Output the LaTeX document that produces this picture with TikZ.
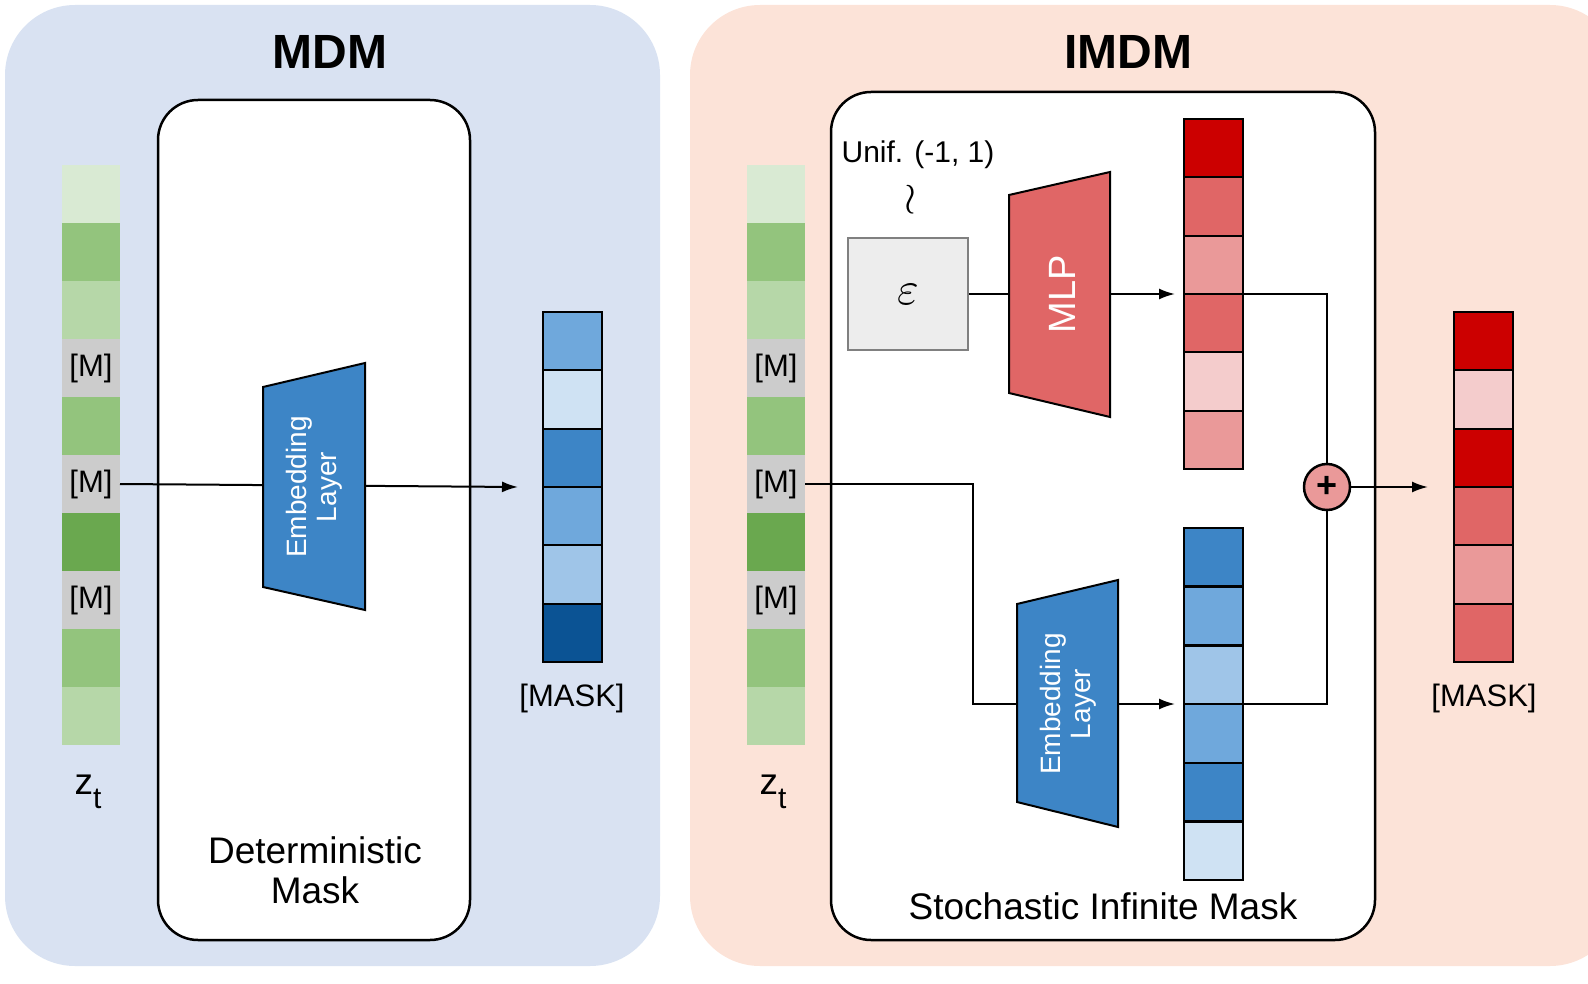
\documentclass[tikz,border=0pt]{standalone}
\usepackage{fontspec}
\usepackage{graphicx}
\setmainfont{Liberation Sans}
\usetikzlibrary{arrows.meta,calc}
\definecolor{bgL}{HTML}{D9E2F2}\definecolor{bgR}{HTML}{FCE3D8}
\definecolor{g1}{HTML}{D9EAD3}\definecolor{g2}{HTML}{93C47D}\definecolor{g3}{HTML}{B6D7A8}\definecolor{g4}{HTML}{6AA84F}\definecolor{mg}{HTML}{CCCCCC}
\definecolor{b1}{HTML}{6FA8DC}\definecolor{b2}{HTML}{CFE2F3}\definecolor{b3}{HTML}{3D85C6}\definecolor{b4}{HTML}{9FC5E8}\definecolor{b5}{HTML}{0B5394}
\definecolor{r1}{HTML}{CC0000}\definecolor{r2}{HTML}{E06666}\definecolor{r3}{HTML}{EA9999}\definecolor{r4}{HTML}{F4CCCC}
\tikzset{
 cell/.style={draw=black,line width=2pt,minimum width=59pt,minimum height=58.3pt,inner sep=0,outer sep=0},
 gcell/.style={draw=none,minimum width=58pt,minimum height=58pt,inner sep=0,outer sep=0,font=\fontsize{31}{33}\selectfont},
 ln/.style={line width=2pt},
 arr/.style={ln,-{Latex[length=16pt,width=11pt]}},
 lbl/.style={font=\fontsize{37}{42}\selectfont,align=center},
 trap/.style={draw=black,line width=2pt},
}
\newcommand{\gcol}[2]{%
 \foreach \c [count=\i] in {g1,g2,g3,mg,g2,mg,g4,mg,g2,g3}{\node[gcell,fill=\c] (#1\i) at (#2,{165+58*(\i-1)+29}) {};}
 \foreach \i in {4,6,8}{\node[gcell,fill=none] at (#1\i) {[M]};}
}
\begin{document}
\begin{tikzpicture}[x=1pt,y=-1pt]
\useasboundingbox (0,0) rectangle (1588,984);
\begin{scope}
\clip (0,0) rectangle (1588,984);
\fill[bgL,rounded corners=70pt] (5,5) rectangle (660,966);
\fill[bgR,rounded corners=70pt] (690,5) rectangle (1620,966);
\end{scope}
\node[font=\fontsize{48}{52}\selectfont\bfseries] (t1) at (330,52) {MDM};
\node[font=\fontsize{48}{52}\selectfont\bfseries] (t2) at (1128,52) {IMDM};
% Left
\draw[fill=white,line width=2.5pt,rounded corners=40pt] (158,100) rectangle (470,940);
\gcol{L}{91}
\node[lbl] (zl) at (88,792) {z\raisebox{-14pt}{\fontsize{30}{32}\selectfont t}};
\foreach \c [count=\i] in {b1,b2,b3,b1,b4,b5}{\node[cell,fill=\c] (O\i) at (572.5,{312+58.3*(\i-1)+29.2}) {};}
\node[font=\fontsize{31}{33}\selectfont] (m1) at (572,698) {[MASK]};
\node[lbl] (dm) at (315,870) {Deterministic\\[-2pt]Mask};
\coordinate (la) at (518,487);
\draw[arr] (L6.east) -- (la);
\draw[trap,fill=b3] (263,387) -- (365,363) -- (365,610) -- (263,587) -- cycle;
\node[rotate=90,align=center,text=white,font=\fontsize{28}{30}\selectfont] (e1) at (314,487) {Embedding\\Layer};
% Right
\draw[fill=white,line width=2.5pt,rounded corners=40pt] (831,92) rectangle (1375,940);
\gcol{R}{776}
\node[lbl] (zr) at (773,792) {z\raisebox{-14pt}{\fontsize{30}{32}\selectfont t}};
\node[font=\fontsize{30}{32}\selectfont] (u) at (918,155) {Unif. (-1, 1)};
\node (tl) at (910,200) {\resizebox{!}{30pt}{$\wr$}};
\node[draw=gray,line width=2pt,fill=black!7,minimum width=120pt,minimum height=112pt,inner sep=0] (eps) at (908,294) {\resizebox{!}{20pt}{$\varepsilon$}};
\foreach \c [count=\i] in {r1,r2,r3,r2,r4,r3}{\node[cell,fill=\c] (P\i) at (1213.5,{119+58.3*(\i-1)+29.2}) {};}
\foreach \c [count=\i] in {b3,b1,b4,b1,b3,b2}{\node[cell,fill=\c] (Q\i) at (1213.5,{528+58.7*(\i-1)+29.3}) {};}
\foreach \c [count=\i] in {r1,r4,r1,r2,r3,r2}{\node[cell,fill=\c] (S\i) at (1483.5,{312+58.3*(\i-1)+29.2}) {};}
\node[font=\fontsize{31}{33}\selectfont] (m2) at (1484,698) {[MASK]};
\node[lbl] (sm) at (1103,906) {Stochastic Infinite Mask};
\node[circle,draw=black,line width=2.5pt,fill=r3,minimum size=46pt,inner sep=0] (plus) at (1327,487) {\fontsize{36}{36}\selectfont\bfseries +};
\coordinate (pa) at (1175,294);
\coordinate (qa) at (1175,704);
\coordinate (ra) at (1428,487);
\draw[ln] (eps.east) -- (1010,294);
\draw[arr] (1110,294) -- (pa);
\draw[trap,fill=r2] (1009,195) -- (1110,172) -- (1110,417) -- (1009,393) -- cycle;
\node[rotate=90,text=white,font=\fontsize{38}{40}\selectfont] (mlp) at (1062,294) {MLP};
\draw[ln] (1243,294) -| (plus.north);
\draw[ln] (1243,704) -| (plus.south);
\draw[arr] (plus.east) -- (ra);
\draw[arr] (R6.east) -| (973,704) -- (qa);
\draw[trap,fill=b3] (1017,604) -- (1118,580) -- (1118,827) -- (1017,802) -- cycle;
\node[rotate=90,align=center,text=white,font=\fontsize{28}{30}\selectfont] (e2) at (1068,704) {Embedding\\Layer};
\end{tikzpicture}
\end{document}
